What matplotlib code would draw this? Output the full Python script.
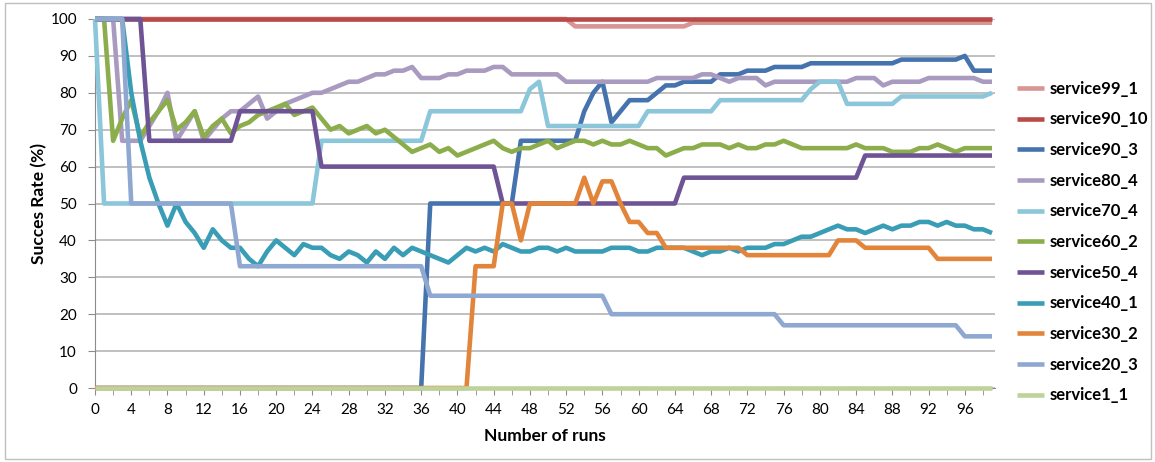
import matplotlib.pyplot as plt
from matplotlib.patches import Rectangle
from matplotlib.ticker import MultipleLocator

plt.rcParams['font.family'] = ['Lato', 'DejaVu Sans']

runs = list(range(100))

service99_1 = [100] * 53 + [98] * 13 + [99] * 34
service90_10 = [100] * 100
service90_3 = ([0] * 37 + [50] * 10 + [67] * 7
               + [75, 80, 83, 72, 75, 78, 78, 78, 80, 82, 82, 83, 83, 83, 83,
                  85, 85, 85, 86, 86, 86, 87, 87, 87, 87]
               + [88] * 10 + [89] * 7 + [90] + [86] * 3)
service80_4 = ([100] * 3 + [67] * 3
               + [71, 75, 80, 67, 71, 75, 67, 70, 73, 75, 75, 77, 79, 73, 75,
                  77, 78, 79, 80, 80, 81, 82, 83, 83, 84, 85, 85, 86, 86, 87,
                  84, 84, 84, 85, 85, 86, 86, 86, 87, 87]
               + [85] * 6 + [83] * 10 + [84] * 5 + [85] * 2 + [84, 83]
               + [84] * 3 + [82] + [83] * 9 + [84] * 3 + [82] + [83] * 4
               + [84] * 6 + [83] * 2)
service70_4 = ([100] + [50] * 24 + [67] * 12 + [75] * 11 + [81, 83]
               + [71] * 11 + [75] * 8 + [78] * 10 + [81, 83, 83, 83]
               + [77] * 6 + [79] * 10 + [80])
service60_2 = [100, 100, 67, 73, 78, 68, 72, 75, 78, 70, 72, 75, 68, 71, 73,
               69, 71, 72, 74, 75, 76, 77, 74, 75, 76, 73, 70, 71, 69, 70,
               71, 69, 70, 68, 66, 64, 65, 66, 64, 65, 63, 64, 65, 66, 67,
               65, 64, 65, 65, 66, 67, 65, 66, 67, 67, 66, 67, 66, 66, 67,
               66, 65, 65, 63, 64, 65, 65, 66, 66, 66, 65, 66, 65, 65, 66,
               66, 67, 66, 65, 65, 65, 65, 65, 65, 66, 65, 65, 65, 64, 64,
               64, 65, 65, 66, 65, 64, 65, 65, 65, 65]
service50_4 = [100] * 6 + [67] * 10 + [75] * 9 + [60] * 20 + [50] * 20 + [57] * 20 + [63] * 15
service40_1 = [100, 100, 100, 100, 80, 67, 57, 50, 44, 50, 45, 42, 38, 43, 40,
               38, 38, 35, 33, 37, 40, 38, 36, 39, 38, 38, 36, 35, 37, 36,
               34, 37, 35, 38, 36, 38, 37, 36, 35, 34, 36, 38, 37, 38, 37,
               39, 38, 37, 37, 38, 38, 37, 38, 37, 37, 37, 37, 38, 38, 38,
               37, 37, 38, 38, 38, 38, 37, 36, 37, 37, 38, 37, 38, 38, 38,
               39, 39, 40, 41, 41, 42, 43, 44, 43, 43, 42, 43, 44, 43, 44,
               44, 45, 45, 44, 45, 44, 44, 43, 43, 42]
service30_2 = ([0] * 42 + [33] * 3 + [50, 50, 40] + [50] * 6
               + [57, 50, 56, 56, 50, 45, 45, 42, 42]
               + [38] * 9 + [36] * 10 + [40] * 3 + [38] * 8 + [35] * 7)
service20_3 = [100] * 4 + [50] * 12 + [33] * 21 + [25] * 20 + [20] * 19 + [17] * 20 + [14] * 4
service1_1 = [0] * 100

names = ['service99_1', 'service90_10', 'service90_3', 'service80_4', 'service70_4',
         'service60_2', 'service50_4', 'service40_1', 'service30_2', 'service20_3',
         'service1_1']
values = [service99_1, service90_10, service90_3, service80_4, service70_4,
          service60_2, service50_4, service40_1, service30_2, service20_3,
          service1_1]
colors = ['#D99594', '#B94A48', '#4573AE', '#A99BC0', '#8CC6DA', '#8CAD4B',
          '#6E5495', '#3A9DB6', '#E2853A', '#8FA8D2', '#BDD39A']

fig = plt.figure(figsize=(11.55, 4.62), dpi=100)
ax = fig.add_axes([95 / 1155, 74 / 462, 900 / 1155, 369 / 462])

# lines sit above the spines so the 0% series covers the x axis
for name, vals, col in zip(names, values, colors):
    ax.plot(runs, vals, color=col, lw=3.3, label=name, clip_on=False,
            solid_capstyle='butt', zorder=3)

ax.set_xlim(0, 99.33)
ax.set_ylim(0, 100)
ax.xaxis.set_major_locator(MultipleLocator(4))
ax.xaxis.set_minor_locator(MultipleLocator(2))
ax.yaxis.set_major_locator(MultipleLocator(10))
ax.yaxis.grid(True, color='#B5B5B5', lw=1.2)
ax.set_axisbelow(True)

for side in ['top', 'right']:
    ax.spines[side].set_visible(False)
for side in ['left', 'bottom']:
    ax.spines[side].set_color('#8C8C8C')
ax.tick_params(axis='both', which='both', direction='out', length=5,
               color='#8C8C8C', labelsize=11, labelcolor='#000000')
ax.tick_params(axis='x', which='major', pad=6)
ax.tick_params(axis='y', pad=8)

ax.set_ylabel('Succes Rate (%)', fontsize=12.5, fontweight='bold', labelpad=2)
ax.set_xlabel('Number of runs', fontsize=12.5, fontweight='bold', labelpad=8)

ax.legend(loc='upper left', bbox_to_anchor=(1010 / 1155, 1 - 74 / 462),
          bbox_transform=fig.transFigure, frameon=False,
          prop={'weight': 'bold', 'size': 12}, handlelength=1.65,
          handletextpad=0.3, labelspacing=0.88, borderaxespad=0)

fig.patches.append(Rectangle((4.5 / 1155, 3 / 462), 1146 / 1155, 456 / 462,
                             transform=fig.transFigure, fill=False,
                             edgecolor='#BFBFBF', lw=1))

fig.savefig('out.png', dpi=100)
